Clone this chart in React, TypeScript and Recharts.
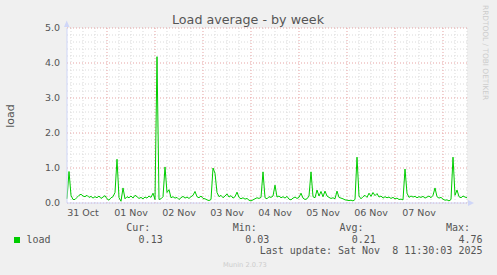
import React from 'react';
import { LineChart, Line, XAxis, YAxis, CartesianGrid } from 'recharts';

// load average, one value per hour, first point Oct 31 04:00
const load = [
  0.12, 0.90, 0.22, 0.10, 0.10, 0.16, 0.22, 0.25, 0.20, 0.18, 0.22, 0.16, 0.19, 0.14, 0.18, 0.15,
  0.20, 0.13, 0.17, 0.21, 0.12, 0.08, 0.15, 0.18, 0.30, 1.25, 0.15, 0.05, 0.43, 0.12, 0.18, 0.15,
  0.20, 0.14, 0.22, 0.18, 0.13, 0.16, 0.12, 0.17, 0.14, 0.20, 0.16, 0.28, 0.10, 4.18, 0.10, 0.12,
  0.18, 1.03, 0.30, 0.38, 0.15, 0.18, 0.14, 0.16, 0.10, 0.15, 0.19, 0.14, 0.17, 0.13, 0.18, 0.22,
  0.33, 0.18, 0.15, 0.20, 0.13, 0.12, 0.09, 0.07, 0.10, 1.00, 0.85, 0.30, 0.18, 0.22, 0.15, 0.20,
  0.26, 0.17, 0.21, 0.14, 0.18, 0.31, 0.16, 0.12, 0.15, 0.11, 0.13, 0.08, 0.06, 0.09, 0.12, 0.15,
  0.13, 0.16, 0.89, 0.15, 0.12, 0.18, 0.16, 0.20, 0.51, 0.17, 0.20, 0.15, 0.18, 0.14, 0.19, 0.11,
  0.09, 0.14, 0.17, 0.13, 0.16, 0.28, 0.14, 0.10, 0.12, 0.20, 0.89, 0.18, 0.15, 0.37, 0.20, 0.33,
  0.18, 0.34, 0.20, 0.16, 0.13, 0.15, 0.12, 0.34, 0.16, 0.14, 0.12, 0.09, 0.08, 0.07, 0.08, 0.06,
  0.10, 1.31, 0.20, 0.12, 0.18, 0.22, 0.16, 0.28, 0.19, 0.30, 0.21, 0.27, 0.17, 0.20, 0.14, 0.18,
  0.15, 0.17, 0.13, 0.16, 0.12, 0.14, 0.10, 0.11, 0.09, 0.97, 0.28, 0.16, 0.20, 0.17, 0.19, 0.15,
  0.18, 0.16, 0.19, 0.14, 0.17, 0.20, 0.15, 0.22, 0.43, 0.18, 0.14, 0.16, 0.11, 0.08, 0.09, 0.06,
  0.10, 1.31, 0.22, 0.37, 0.18, 0.15, 0.20, 0.17, 0.15,
];

const dayLabels = ['31 Oct', '01 Nov', '02 Nov', '03 Nov', '04 Nov', '05 Nov', '06 Nov', '07 Nov'];
const labelHours = [8, 32, 56, 80, 104, 128, 152, 176]; // noon of each day
const midnightHours = [20, 44, 68, 92, 116, 140, 164, 188];
const sixHourHours = [2, 8, 14, 26, 32, 38, 50, 56, 62, 74, 80, 86, 98, 104, 110, 122, 128, 134,
  146, 152, 158, 170, 176, 182, 194, 200];
const yTicks = [0, 1, 2, 3, 4, 5];
const yMinor = [0.2, 0.4, 0.6, 0.8, 1.2, 1.4, 1.6, 1.8, 2.2, 2.4, 2.6, 2.8, 3.2, 3.4, 3.6, 3.8,
  4.2, 4.4, 4.6, 4.8];
const legendStats = [
  { head: 'Cur:', value: '0.13' },
  { head: 'Min:', value: '0.03' },
  { head: 'Avg:', value: '0.21' },
  { head: 'Max:', value: '4.76' },
];

const data = load.map((v, i) => ({ h: i, load: v }));

const FONT = 'DejaVu Sans, sans-serif';
const MONO = 'DejaVu Sans Mono, monospace';
const TEXT = '#555555';
const AXIS = '#CFD6F8';

export default function App() {
  return (
    <div style={{ position: 'absolute', left: 0, top: 0, width: 497, height: 275, background: '#F0F0F0' }}>
      <LineChart width={497} height={275} data={data} margin={{ top: 28, right: 30, bottom: 52, left: 0 }}>
        <CartesianGrid
          fill="#ffffff"
          stroke="#dadada"
          strokeDasharray="1 2"
          horizontalValues={yMinor}
          verticalValues={sixHourHours}
        />
        <CartesianGrid
          fill="none"
          stroke="#e6a3a3"
          strokeDasharray="1 2"
          horizontalValues={yTicks}
          verticalValues={midnightHours}
        />
        <XAxis
          dataKey="h"
          type="number"
          domain={[0, 200]}
          ticks={labelHours}
          interval={0}
          tickFormatter={(h: number) => dayLabels[labelHours.indexOf(h)]}
          tick={{ fontSize: 9.5, fill: TEXT, fontFamily: FONT }}
          tickLine={false}
          tickSize={4}
          tickMargin={2}
          axisLine={{ stroke: AXIS }}
          height={20}
        />
        <YAxis
          type="number"
          domain={[0, 5]}
          ticks={yTicks}
          interval={0}
          tickFormatter={(v: number) => v.toFixed(1)}
          tick={{ fontSize: 9.5, fill: TEXT, fontFamily: FONT }}
          tickLine={false}
          tickSize={5}
          tickMargin={2}
          axisLine={{ stroke: AXIS }}
          width={67}
        />
        <Line
          type="linear"
          dataKey="load"
          stroke="#00CC00"
          strokeWidth={1}
          dot={false}
          activeDot={false}
          isAnimationActive={false}
        />
      </LineChart>
      <svg width={497} height={275} style={{ position: 'absolute', left: 0, top: 0, pointerEvents: 'none' }}>
        <polygon points="64,27 69.5,27 66.7,20.5" fill={AXIS} />
        <polygon points="468,200 468,206 474,203" fill={AXIS} />
        <text x={248} y={24} textAnchor="middle" fontSize={12.7} fill={TEXT} fontFamily={FONT}>
          Load average - by week
        </text>
        <text x={14} y={116} textAnchor="middle" fontSize={11} fill={TEXT} fontFamily={FONT}
          transform="rotate(-90 14 116)">
          load
        </text>
        <text x={483} y={5} fontSize={7.4} fill="#cccccc" fontFamily={FONT} transform="rotate(90 483 5)">
          RRDTOOL / TOBI OETIKER
        </text>
        <rect x={14} y={237} width={6} height={6} fill="#00CC00" />
        <text x={26.5} y={243} fontSize={10} fill={TEXT} fontFamily={MONO}>load</text>
        {legendStats.map((s, i) => (
          <g key={s.head}>
            <text x={150.3 + i * 106.6} y={231} textAnchor="end" fontSize={10} fill={TEXT} fontFamily={MONO}>
              {s.head}
            </text>
            <text x={162.7 + i * 106.6} y={243} textAnchor="end" fontSize={10} fill={TEXT} fontFamily={MONO}>
              {s.value}
            </text>
          </g>
        ))}
        <text x={482.5} y={254} textAnchor="end" fontSize={10} fill={TEXT} fontFamily={MONO}
          style={{ whiteSpace: 'pre' }}>
          {'Last update: Sat Nov  8 11:30:03 2025'}
        </text>
        <text x={223} y={267} fontSize={6.7} fill="#cccccc" fontFamily={FONT}>Munin 2.0.73</text>
      </svg>
    </div>
  );
}
